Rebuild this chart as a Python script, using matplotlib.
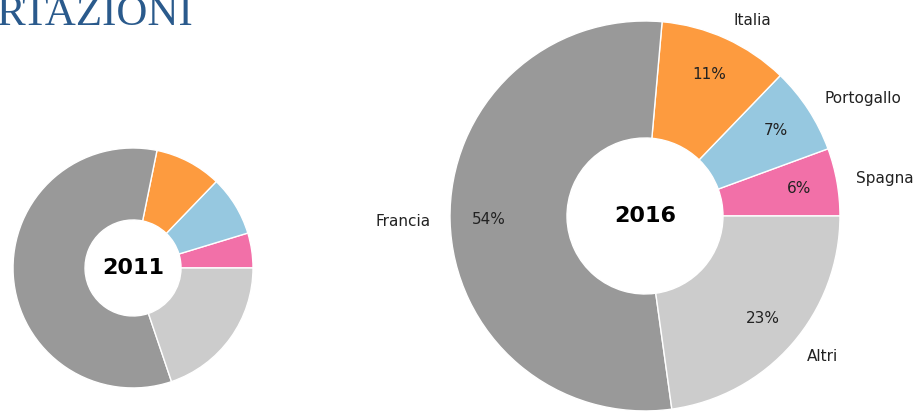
import matplotlib
matplotlib.use("Agg")
import matplotlib.pyplot as plt

# -------------------------
# Data
# -------------------------
countries = ["Spagna", "Portogallo", "Italia", "Francia", "Altri"]
share_2011 = [4.7, 8.1, 9.0, 58.4, 19.8]
share_2016 = [5.6, 7.2, 10.8, 53.6, 22.8]
colors = ["#f270a8", "#96c8e0", "#fd9b3f", "#999999", "#cccccc"]

fig = plt.figure(figsize=(9.18, 4.11), dpi=100)

# cropped slide title
fig.text(-0.004, 0.939, "RTAZIONI", family="Liberation Serif", fontsize=31,
         color="#2a5a8c", ha="left", va="baseline")

wedge_kw = dict(width=0.6, edgecolor="white", linewidth=1)

# ---- 2011 (small, no labels) ----
ax1 = fig.add_axes([0.0142, 0.056, 0.2614, 0.584])
ax1.pie(share_2011, colors=colors, startangle=0, counterclock=True,
        wedgeprops=wedge_kw)
ax1.text(0, 0, "2011", ha="center", va="center", fontsize=16, fontweight="bold")
ax1.set_xlim(-1, 1); ax1.set_ylim(-1, 1); ax1.set_aspect("equal")
ax1.axis("off")

# ---- 2016 (labelled) ----
ax2 = fig.add_axes([0.4902, 0.0, 0.4248, 0.949])
wedges, texts, autotexts = ax2.pie(share_2016, colors=colors, labels=countries,
                                   autopct="%.0f%%", pctdistance=0.8,
                                   labeldistance=1.1, startangle=0,
                                   counterclock=True, wedgeprops=wedge_kw,
                                   textprops=dict(fontsize=11, color="#222222"))
ax2.text(0, 0, "2016", ha="center", va="center", fontsize=16, fontweight="bold")
ax2.set_xlim(-1, 1); ax2.set_ylim(-1, 1); ax2.set_aspect("equal")
ax2.axis("off")

fig.savefig("out.png", dpi=100)
